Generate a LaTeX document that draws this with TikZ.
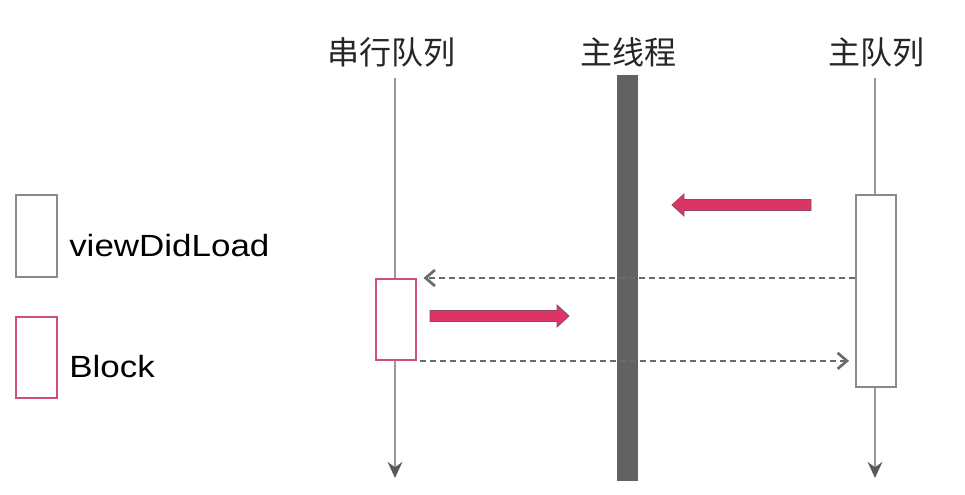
\documentclass[tikz,border=0pt]{standalone}
\usepackage{fontspec}
\setmainfont{Liberation Sans}
\newfontfamily\cjk{Noto Sans CJK SC}
\newfontfamily\legendfont[FakeStretch=1.14]{Liberation Sans}
\usetikzlibrary{arrows.meta,calc}
\definecolor{lifegray}{HTML}{999999}
\definecolor{tipgray}{HTML}{5A5A5A}
\definecolor{bargray}{HTML}{636163}
\definecolor{boxgray}{HTML}{8A8A8A}
\definecolor{blockpink}{HTML}{D0507A}
\definecolor{arrowpink}{HTML}{DC3565}
\definecolor{arrowedge}{HTML}{8E4A62}
\definecolor{dashgray}{HTML}{6A6A6A}
\tikzset{
  title/.style={font=\cjk\fontsize{24pt}{28pt}\selectfont, text=black!85, inner sep=0pt},
  legendtext/.style={font=\legendfont\fontsize{23pt}{27pt}\selectfont, text=black, inner sep=0pt, anchor=base west},
  lifeline/.style={draw=lifegray, line width=1.1pt, -{Stealth[length=12pt,width=11pt,inset=4pt,color=tipgray]}},
  vdlbox/.style={draw=boxgray, fill=white, line width=1.4pt, inner sep=0pt, anchor=north west},
  blockbox/.style={draw=blockpink, fill=white, line width=1.4pt, inner sep=0pt, anchor=north west},
  dashmsg/.style={draw=dashgray, line width=1.1pt, dash pattern=on 4.5pt off 3pt, -{Straight Barb[length=7pt,width=12pt,line width=2pt]}},
  pinkarrow/.style={fill=arrowpink, draw=arrowedge, line width=0.6pt},
  bar/.style={fill=bargray, draw=none, inner sep=0pt, anchor=north west, minimum width=15.75pt, minimum height=304.5pt}
}
\begin{document}
\begin{tikzpicture}[x=0.75pt,y=-0.75pt]
\useasboundingbox (0,0) rectangle (965,495);
% titles
\node[title] (t1) at (391,52) {串行队列};
\node[title] (t2) at (628,52) {主线程};
\node[title] (t3) at (876,52) {主队列};
% main thread bar
\node[bar] (bar) at (617,75) {};
% lifelines
\coordinate (l1top) at (395,78);
\coordinate (l1bot) at (395,478);
\coordinate (l2top) at (875,78);
\coordinate (l2bot) at (875,478);
\draw[lifeline] (l1top) -- (l1bot);
\draw[lifeline] (l2top) -- (l2bot);
% activation boxes
\node[vdlbox, minimum width=30pt, minimum height=144pt] (vdl) at (855,194) {};
\node[blockbox, minimum width=30pt, minimum height=60.75pt] (blk) at (375,278) {};
% dashed messages
\draw[dashmsg] (vdl.west |- blk.north) -- ([xshift=5pt]blk.north east);
\draw[dashmsg] ([xshift=2pt]blk.south east) -- ([xshift=-4.5pt]vdl.west |- blk.south);
% pink arrows
\coordinate (p1tail) at (811,205);
\coordinate (p1tip) at (672,205);
\draw[pinkarrow] ($(p1tail)+(0,-5.5)$) -- ($(p1tip)+(12,-5.5)$) -- ($(p1tip)+(12,-11)$) -- (p1tip) -- ($(p1tip)+(12,11)$) -- ($(p1tip)+(12,5.5)$) -- ($(p1tail)+(0,5.5)$) -- cycle;
\coordinate (p2tail) at (430,316);
\coordinate (p2tip) at (569,316);
\draw[pinkarrow] ($(p2tail)+(0,-5.5)$) -- ($(p2tip)+(-12,-5.5)$) -- ($(p2tip)+(-12,-11)$) -- (p2tip) -- ($(p2tip)+(-12,11)$) -- ($(p2tip)+(-12,5.5)$) -- ($(p2tail)+(0,5.5)$) -- cycle;
% legend
\node[vdlbox, minimum width=30.75pt, minimum height=61.5pt] (lg1) at (15,194) {};
\node[blockbox, minimum width=30.75pt, minimum height=61pt] (lg2) at (15,316) {};
\node[legendtext] (lt1) at (69,257) {viewDidLoad};
\node[legendtext] (lt2) at (69,378) {Block};
\end{tikzpicture}
\end{document}
